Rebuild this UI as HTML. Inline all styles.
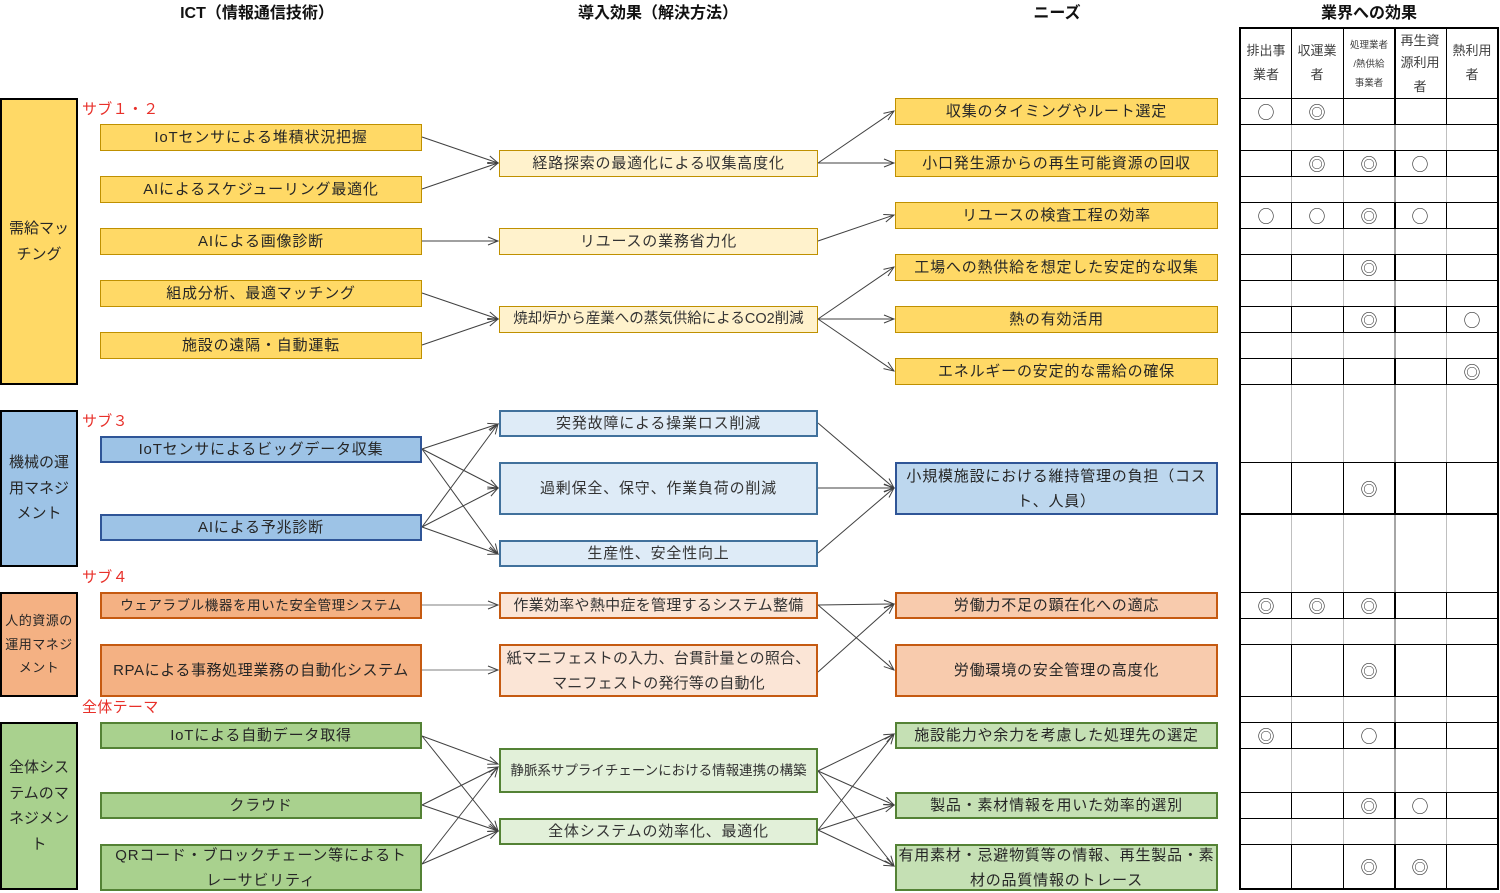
<!DOCTYPE html>
<html lang="ja">
<head>
<meta charset="utf-8">
<style>
html,body{margin:0;padding:0;background:#fff;}
body{width:1500px;height:891px;position:relative;overflow:hidden;font-family:"Liberation Sans","Noto Sans CJK JP",sans-serif;}
.h{position:absolute;top:3px;font-weight:bold;font-size:16px;line-height:22px;color:#111;white-space:nowrap;transform:translateX(-50%);}
.red{position:absolute;left:82px;font-size:15px;line-height:20px;color:#E8302A;letter-spacing:0.3px;white-space:nowrap;}
.c{position:absolute;left:0;width:78px;box-sizing:border-box;border:2px solid #000;display:flex;align-items:center;justify-content:center;text-align:center;font-size:15px;line-height:25.5px;color:#262626;}
.b{position:absolute;box-sizing:border-box;border:2px solid;display:flex;align-items:center;justify-content:center;text-align:center;white-space:nowrap;font-size:15px;line-height:25px;letter-spacing:0.8px;color:#262626;}
.i{left:100px;width:322px;}
.m{left:499px;width:319px;color:#333;}
.n{left:895px;width:323px;}
.y1{background:#FFD966;border-color:#BF9000;border-width:1.5px;}
.y2{background:#FFF2CC;border-color:#BF9000;border-width:1.5px;}
.bl1{background:#9DC3E6;border-color:#2F5597;}
.bl2{background:#DEEBF7;border-color:#41719C;}
.bl3{background:#BDD7EE;border-color:#2F5597;}
.o1{background:#F4B183;border-color:#C55A11;}
.o2{background:#FBE5D6;border-color:#C55A11;}
.o3{background:#F8CBAD;border-color:#C55A11;}
.g1{background:#A9D18E;border-color:#548235;}
.g2{background:#E2F0D9;border-color:#548235;}
.g3{background:#C5E0B4;border-color:#548235;}
svg{position:absolute;left:0;top:0;}
</style>
</head>
<body>

<!-- headers -->
<div class="h" style="left:257px">ICT（情報通信技術）</div>
<div class="h" style="left:658px">導入効果（解決方法）</div>
<div class="h" style="left:1057px">ニーズ</div>
<div class="h" style="left:1369px">業界への効果</div>

<!-- connectors -->
<svg width="1500" height="891" viewBox="0 0 1500 891">
<defs>
<marker id="a" markerUnits="userSpaceOnUse" markerWidth="12" markerHeight="10" refX="11" refY="5" orient="auto">
<path d="M1,1 L11,5 L1,9" fill="none" stroke="#404040" stroke-width="1"/>
</marker>
</defs>
<g stroke="#404040" stroke-width="1" fill="none" marker-end="url(#a)">
<line x1="422" y1="137" x2="498" y2="163"/>
<line x1="422" y1="189" x2="498" y2="163"/>
<line x1="422" y1="241" x2="498" y2="241"/>
<line x1="422" y1="293" x2="498" y2="319"/>
<line x1="422" y1="345" x2="498" y2="319"/>
<line x1="818" y1="163" x2="894" y2="111"/>
<line x1="818" y1="163" x2="894" y2="163"/>
<line x1="818" y1="241" x2="894" y2="215"/>
<line x1="818" y1="319" x2="894" y2="267"/>
<line x1="818" y1="319" x2="894" y2="319"/>
<line x1="818" y1="319" x2="894" y2="371"/>

<line x1="422" y1="449" x2="498" y2="424"/>
<line x1="422" y1="449" x2="498" y2="488"/>
<line x1="422" y1="449" x2="498" y2="554"/>
<line x1="422" y1="527" x2="498" y2="424"/>
<line x1="422" y1="527" x2="498" y2="488"/>
<line x1="422" y1="527" x2="498" y2="554"/>
<line x1="818" y1="423" x2="894" y2="488"/>
<line x1="818" y1="488" x2="894" y2="488"/>
<line x1="818" y1="553" x2="894" y2="488"/>

<line x1="422" y1="605" x2="498" y2="605" stroke="#7f7f7f"/>
<line x1="422" y1="670" x2="498" y2="670" stroke="#7f7f7f"/>
<line x1="818" y1="605" x2="894" y2="604"/>
<line x1="818" y1="605" x2="894" y2="670"/>
<line x1="818" y1="672" x2="894" y2="604"/>

<line x1="422" y1="736" x2="498" y2="764"/>
<line x1="422" y1="736" x2="498" y2="831"/>
<line x1="422" y1="805" x2="498" y2="767"/>
<line x1="422" y1="805" x2="498" y2="831"/>
<line x1="422" y1="864" x2="498" y2="767"/>
<line x1="422" y1="864" x2="498" y2="831"/>
<line x1="818" y1="771" x2="894" y2="734"/>
<line x1="818" y1="771" x2="894" y2="805"/>
<line x1="818" y1="771" x2="894" y2="866"/>
<line x1="818" y1="830" x2="894" y2="734"/>
<line x1="818" y1="830" x2="894" y2="805"/>
<line x1="818" y1="830" x2="894" y2="866"/>
</g>

<!-- table -->
<g fill="none">
<path d="M1291.5 28V889M1343.5 28V889M1446.5 28V889" stroke="#BFBFBF" stroke-width="1"/>
<path d="M1395 28V889" stroke="#A6A6A6" stroke-width="2"/>
<path d="M1291.5 28V124M1291.5 150V176M1291.5 202V228M1291.5 254V280M1291.5 306V332M1291.5 358V384M1291.5 462V514M1291.5 592V618M1291.5 644V696M1291.5 722V748M1291.5 792V818M1291.5 844V889
M1343.5 28V124M1343.5 150V176M1343.5 202V228M1343.5 254V280M1343.5 306V332M1343.5 358V384M1343.5 462V514M1343.5 592V618M1343.5 644V696M1343.5 722V748M1343.5 792V818M1343.5 844V889
M1446.5 28V124M1446.5 150V176M1446.5 202V228M1446.5 254V280M1446.5 306V332M1446.5 358V384M1446.5 462V514M1446.5 592V618M1446.5 644V696M1446.5 722V748M1446.5 792V818M1446.5 844V889" stroke="#000" stroke-width="1"/>
<path d="M1395 28V124M1395 150V176M1395 202V228M1395 254V280M1395 306V332M1395 358V384M1395 462V514M1395 592V618M1395 644V696M1395 722V748M1395 792V818M1395 844V889" stroke="#000" stroke-width="2"/>
<path d="M1240 98.5H1498M1240 124.5H1498M1240 150.5H1498M1240 176.5H1498M1240 202.5H1498M1240 228.5H1498M1240 254.5H1498M1240 280.5H1498M1240 306.5H1498M1240 332.5H1498M1240 358.5H1498M1240 384.5H1498M1240 462.5H1498M1240 592.5H1498M1240 618.5H1498M1240 644.5H1498M1240 696.5H1498M1240 722.5H1498M1240 748.5H1498M1240 792.5H1498M1240 818.5H1498M1240 844.5H1498" stroke="#000" stroke-width="1"/>
<path d="M1240 514H1498" stroke="#000" stroke-width="2"/>
<rect x="1240" y="28" width="258" height="861" stroke="#000" stroke-width="2"/>
</g>
<g font-family="Liberation Sans, Noto Sans CJK JP, sans-serif" fill="#404040" text-anchor="middle">
<text x="1266" y="55" font-size="13">排出事</text>
<text x="1266" y="79" font-size="13">業者</text>
<text x="1317" y="55" font-size="13">収運業</text>
<text x="1317" y="79" font-size="13">者</text>
<text x="1369" y="48" font-size="9.5">処理業者</text>
<text x="1369" y="67" font-size="9.5">/熱供給</text>
<text x="1369" y="86" font-size="9.5">事業者</text>
<text x="1420" y="45" font-size="13">再生資</text>
<text x="1420" y="67" font-size="13">源利用</text>
<text x="1420" y="91" font-size="13">者</text>
<text x="1472" y="55" font-size="13">熱利用</text>
<text x="1472" y="79" font-size="13">者</text>
</g>
<g font-family="Noto Sans CJK JP, DejaVu Sans, sans-serif" font-size="17" fill="#333" text-anchor="middle" dominant-baseline="central">
<text x="1266" y="111">○</text><text x="1317" y="111">◎</text>
<text x="1317" y="163">◎</text><text x="1369" y="163">◎</text><text x="1420" y="163">○</text>
<text x="1266" y="215">○</text><text x="1317" y="215">○</text><text x="1369" y="215">◎</text><text x="1420" y="215">○</text>
<text x="1369" y="267">◎</text>
<text x="1369" y="319">◎</text><text x="1472" y="319">○</text>
<text x="1472" y="371">◎</text>
<text x="1369" y="488">◎</text>
<text x="1266" y="605">◎</text><text x="1317" y="605">◎</text><text x="1369" y="605">◎</text>
<text x="1369" y="670">◎</text>
<text x="1266" y="735">◎</text><text x="1369" y="735">○</text>
<text x="1369" y="805">◎</text><text x="1420" y="805">○</text>
<text x="1369" y="866">◎</text><text x="1420" y="866">◎</text>
</g>
</svg>

<!-- category boxes -->
<div class="c" style="top:98px;height:287px;background:#FFD966"><span>需給マッ<br>チング</span></div>
<div class="c" style="top:410px;height:157px;background:#9DC3E6"><span>機械の運<br>用マネジ<br>メント</span></div>
<div class="c" style="top:592px;height:105px;background:#F4B183;font-size:13px;line-height:23.5px;letter-spacing:0.5px"><span>人的資源の<br>運用マネジ<br>メント</span></div>
<div class="c" style="top:722px;height:168px;background:#A9D18E"><span>全体シス<br>テムのマ<br>ネジメン<br>ト</span></div>

<!-- red labels -->
<div class="red" style="top:100px">サブ１・２</div>
<div class="red" style="top:412px">サブ３</div>
<div class="red" style="top:568px">サブ４</div>
<div class="red" style="top:698px">全体テーマ</div>

<!-- ICT boxes -->
<div class="b i y1" style="top:124px;height:27px"><span>IoTセンサによる堆積状況把握</span></div>
<div class="b i y1" style="top:176px;height:27px"><span>AIによるスケジューリング最適化</span></div>
<div class="b i y1" style="top:228px;height:27px"><span>AIによる画像診断</span></div>
<div class="b i y1" style="top:280px;height:27px"><span>組成分析、最適マッチング</span></div>
<div class="b i y1" style="top:332px;height:27px"><span>施設の遠隔・自動運転</span></div>
<div class="b i bl1" style="top:436px;height:27px"><span>IoTセンサによるビッグデータ収集</span></div>
<div class="b i bl1" style="top:514px;height:27px"><span>AIによる予兆診断</span></div>
<div class="b i o1" style="top:592px;height:27px;font-size:13.5px;letter-spacing:0.6px"><span>ウェアラブル機器を用いた安全管理システム</span></div>
<div class="b i o1" style="top:644px;height:53px;font-size:15px;letter-spacing:0.6px"><span>RPAによる事務処理業務の自動化システム</span></div>
<div class="b i g1" style="top:722px;height:27px"><span>IoTによる自動データ取得</span></div>
<div class="b i g1" style="top:792px;height:27px"><span>クラウド</span></div>
<div class="b i g1" style="top:844px;height:47px"><span>QRコード・ブロックチェーン等によるト<br>レーサビリティ</span></div>

<!-- middle boxes -->
<div class="b m y2" style="top:150px;height:27px"><span>経路探索の最適化による収集高度化</span></div>
<div class="b m y2" style="top:228px;height:27px"><span>リユースの業務省力化</span></div>
<div class="b m y2" style="top:306px;height:27px;font-size:14.5px;letter-spacing:0"><span>焼却炉から産業への蒸気供給によるCO2削減</span></div>
<div class="b m bl2" style="top:410px;height:27px"><span>突発故障による操業ロス削減</span></div>
<div class="b m bl2" style="top:462px;height:53px"><span>過剰保全、保守、作業負荷の削減</span></div>
<div class="b m bl2" style="top:540px;height:27px"><span>生産性、安全性向上</span></div>
<div class="b m o2" style="top:592px;height:27px;letter-spacing:0.3px"><span>作業効率や熱中症を管理するシステム整備</span></div>
<div class="b m o2" style="top:644px;height:53px;letter-spacing:0.2px"><span>紙マニフェストの入力、台貫計量との照合、<br>マニフェストの発行等の自動化</span></div>
<div class="b m g2" style="top:748px;height:45px;font-size:13.5px;letter-spacing:0"><span>静脈系サプライチェーンにおける情報連携の構築</span></div>
<div class="b m g2" style="top:818px;height:27px"><span>全体システムの効率化、最適化</span></div>

<!-- needs boxes -->
<div class="b n y1" style="top:98px;height:27px"><span>収集のタイミングやルート選定</span></div>
<div class="b n y1" style="top:150px;height:27px"><span>小口発生源からの再生可能資源の回収</span></div>
<div class="b n y1" style="top:202px;height:27px"><span>リユースの検査工程の効率</span></div>
<div class="b n y1" style="top:254px;height:27px"><span>工場への熱供給を想定した安定的な収集</span></div>
<div class="b n y1" style="top:306px;height:27px"><span>熱の有効活用</span></div>
<div class="b n y1" style="top:358px;height:27px"><span>エネルギーの安定的な需給の確保</span></div>
<div class="b n bl3" style="top:462px;height:53px"><span>小規模施設における維持管理の負担（コス<br>ト、人員）</span></div>
<div class="b n o3" style="top:592px;height:27px"><span>労働力不足の顕在化への適応</span></div>
<div class="b n o3" style="top:644px;height:53px"><span>労働環境の安全管理の高度化</span></div>
<div class="b n g3" style="top:722px;height:27px"><span>施設能力や余力を考慮した処理先の選定</span></div>
<div class="b n g3" style="top:792px;height:27px"><span>製品・素材情報を用いた効率的選別</span></div>
<div class="b n g3" style="top:844px;height:47px"><span>有用素材・忌避物質等の情報、再生製品・素<br>材の品質情報のトレース</span></div>

</body>
</html>
